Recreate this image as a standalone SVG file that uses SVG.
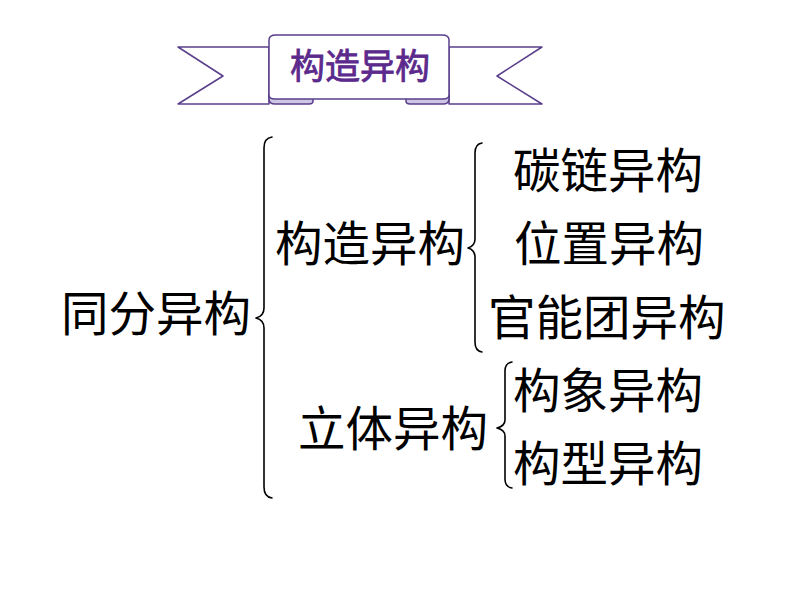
<svg xmlns="http://www.w3.org/2000/svg" width="794" height="595" viewBox="0 0 794 595">
<style>
.t{font-family:"Noto Sans CJK SC","Noto Sans CJK JP",sans-serif;font-size:47.5px;fill:#000}
.b{fill:none;stroke:#000;stroke-width:1.6;stroke-linecap:round;stroke-linejoin:round}
.rib{fill:#fff;stroke:#5a3f8c;stroke-width:1.5;stroke-linejoin:round}
.fold{fill:#cfc6e6;stroke:#5a3f8c;stroke-width:1.5}
.bt{font-family:"Noto Sans CJK SC","Noto Sans CJK JP",sans-serif;font-size:35px;fill:#5b2a8c;stroke:#5b2a8c;stroke-width:0.8}
</style>
<rect width="794" height="595" fill="#fff"/>
<g id="banner">
<polygon class="rib" points="178,47 269,47 269,104 178,104 223,76"/>
<polygon class="rib" points="449,47 542,47 497,76 542,104 449,104"/>
<path class="fold" d="M269,95 L313,95 L313,101 Q313,104 309,104 L275,104 Q269,104 269,99 Z"/>
<path class="fold" d="M406,95 L449,95 L449,99 Q449,104 443,104 L410,104 Q406,104 406,101 Z"/>
<path class="rib" d="M269,95 L269,40 Q269,35 276,35 L442,35 Q449,35 449,40 L449,95 Q449,99 443,99 L275,99 Q269,99 269,95 Z"/>
<text class="bt" x="290" y="79">构造异构</text>
</g>
<g id="connectors">
<path class="b" d="M272,137 Q264,138 264,148 L264,308 Q264,316 256,318 Q264,320 264,328 L264,487 Q264,497 272,498"/>
<path class="b" d="M482,143 Q475,144 475,153 L475,239 Q475,246 468,248 Q475,250 475,257 L475,342 Q475,351 482,352"/>
<path class="b" d="M512,362 Q505,363 505,371 L505,420 Q505,426 497,428 Q505,430 505,436 L505,479 Q505,487 512,488"/>
</g>
<g id="n-root"><text class="t" x="61" y="331">同分异构</text></g>
<g id="n-gouzao"><text class="t" x="275" y="261">构造异构</text></g>
<g id="n-liti"><text class="t" x="298" y="446">立体异构</text></g>
<g id="n-tanlian"><text class="t" x="513" y="188">碳链异构</text></g>
<g id="n-weizhi"><text class="t" x="514" y="261">位置异构</text></g>
<g id="n-guanneng"><text class="t" x="488" y="335">官能团异构</text></g>
<g id="n-gouxiang"><text class="t" x="513" y="408">构象异构</text></g>
<g id="n-gouxing"><text class="t" x="513" y="481">构型异构</text></g>
</svg>
